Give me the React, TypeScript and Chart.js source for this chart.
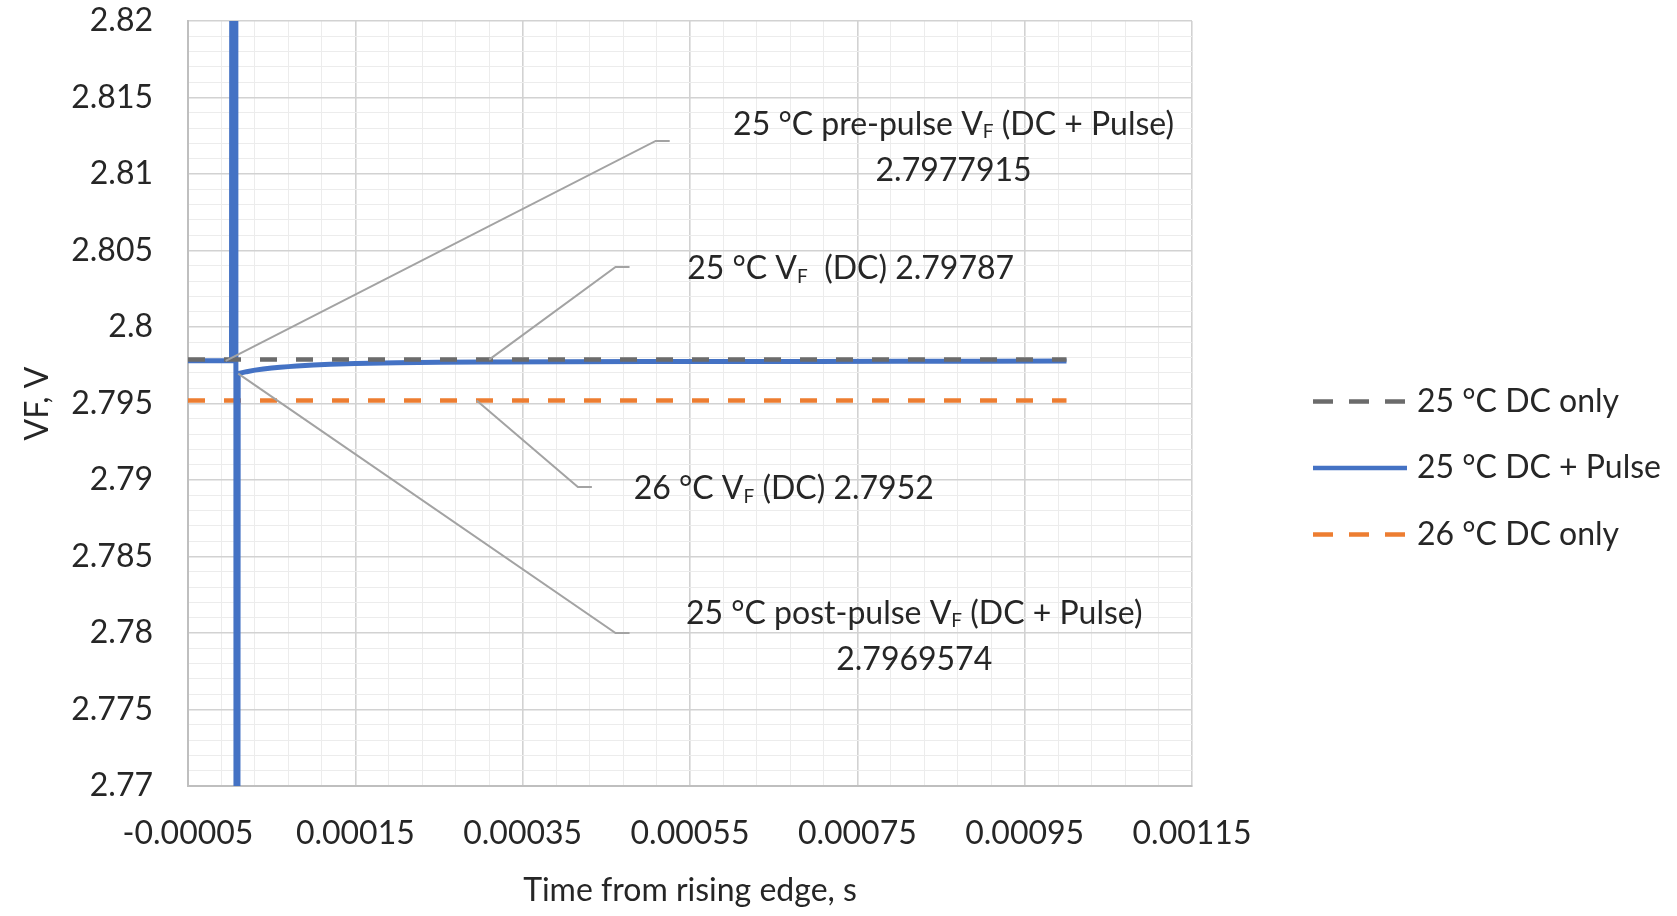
import React, { useEffect, useRef } from 'react';
import { Chart, registerables } from 'chart.js';

Chart.register(...registerables);

const FONT = 'Lato, "Open Sans", "Noto Sans", sans-serif';
const TEXT = '#262626';
const MAJOR_GRID = '#d2d2d2';
const MINOR_GRID = '#ececec';
const LEADER = '#a3a3a3';
const FONT_SIZE = 32;

// Measured forward-voltage levels (V)
const PRE_PULSE_VF = 2.7977915;
const POST_PULSE_VF = 2.7969574;
const DC25_VF = 2.79787;
const DC26_VF = 2.7952;

const seriesNames = ['25 °C DC only', '25 °C DC + Pulse', '26 °C DC only'];
const seriesColors = ['#6b6b6b', '#4472C4', '#ED7D31'];

// Axis tick labels (major ticks); minor gridlines split each interval in five
const xTickLabels = ['-0.00005', '0.00015', '0.00035', '0.00055', '0.00075', '0.00095', '0.00115'];
const yTickLabels = ['2.77', '2.775', '2.78', '2.785', '2.79', '2.795', '2.8', '2.805', '2.81', '2.815', '2.82'];
const MINOR_DIVISIONS = 5;

// DC-only traces (s, V)
const dcTime = [-0.00005, 0.0002, 0.0004, 0.0006, 0.0008, 0.001];
const dc25VF = [DC25_VF, DC25_VF, DC25_VF, DC25_VF, DC25_VF, DC25_VF];
const dc26VF = [DC26_VF, DC26_VF, DC26_VF, DC26_VF, DC26_VF, DC26_VF];

// DC + pulse trace (s, V); the pulse itself runs far off the plotted range
const pulseTime = [
  -0.00005, -0.00004, -0.00003, -0.00002, -0.00001, 0, 0.000002,
  0.000003, 0.000007, 0.0000075, 0.000009,
  0.00001, 0.000015, 0.00002, 0.00003, 0.00004, 0.00005, 0.00006, 0.00007, 0.00008,
  0.0001, 0.00012, 0.00015, 0.0002, 0.00025, 0.0003, 0.0004, 0.0005, 0.0006,
  0.0007, 0.0008, 0.0009, 0.001,
];
const pulseVF = [
  PRE_PULSE_VF, PRE_PULSE_VF, PRE_PULSE_VF, PRE_PULSE_VF, PRE_PULSE_VF, PRE_PULSE_VF, PRE_PULSE_VF,
  2.9, 2.9, 2.7, 2.7,
  POST_PULSE_VF, 2.79702, 2.79708, 2.79718, 2.79726, 2.79732, 2.79737, 2.79741, 2.79745,
  2.79751, 2.79756, 2.79761, 2.79766, 2.79769, 2.79771, 2.79773, 2.79774, 2.79775,
  2.79775, 2.79776, 2.79776, 2.79777,
];

const X_MIN = parseFloat(xTickLabels[0]);
const X_MAX = parseFloat(xTickLabels[xTickLabels.length - 1]);
const Y_MIN = parseFloat(yTickLabels[0]);
const Y_MAX = parseFloat(yTickLabels[yTickLabels.length - 1]);
const X_MAJOR = (X_MAX - X_MIN) / (xTickLabels.length - 1);
const Y_MAJOR = (Y_MAX - Y_MIN) / (yTickLabels.length - 1);

// Data-label callouts: anchor on the series, elbow of the leader, text centre (all in data units)
const callouts = [
  {
    anchor: [-0.000005, PRE_PULSE_VF],
    elbow: [0.000509, 2.81216],
    text: [0.000865, 2.81183],
    lines: ['25 °C pre-pulse V{F} (DC + Pulse)', String(PRE_PULSE_VF)],
  },
  {
    anchor: [0.00031, DC25_VF],
    elbow: [0.000461, 2.80392],
    text: [0.000742, 2.80386],
    lines: [`25 °C V{F}  (DC) ${DC25_VF}`],
  },
  {
    anchor: [0.000295, DC26_VF],
    elbow: [0.000416, 2.78954],
    text: [0.000662, 2.78948],
    lines: [`26 °C V{F} (DC) ${DC26_VF}`],
  },
  {
    anchor: [0.00001, POST_PULSE_VF],
    elbow: [0.000461, 2.78],
    text: [0.000818, 2.77987],
    lines: ['25 °C post-pulse V{F} (DC + Pulse)', String(POST_PULSE_VF)],
  },
];

const toPoints = (xs: number[], ys: number[]) => xs.map((x, i) => ({ x, y: ys[i] }));

function isMajor(value: number, min: number, step: number) {
  const k = (value - min) / step;
  return Math.abs(k - Math.round(k)) < 1e-6;
}

function drawRuns(ctx: CanvasRenderingContext2D, text: string, cx: number, cy: number) {
  const parts = text.split(/(\{F\})/).filter((p) => p.length > 0);
  const big = `${FONT_SIZE}px ${FONT}`;
  const small = `${Math.round(FONT_SIZE * 0.6)}px ${FONT}`;
  const widths = parts.map((p) => {
    ctx.font = p === '{F}' ? small : big;
    return ctx.measureText(p === '{F}' ? 'F' : p).width;
  });
  const total = widths.reduce((a, b) => a + b, 0);
  let xx = cx - total / 2;
  const base = cy + FONT_SIZE * 0.36;
  ctx.textAlign = 'left';
  ctx.textBaseline = 'alphabetic';
  ctx.fillStyle = TEXT;
  parts.forEach((p, i) => {
    if (p === '{F}') {
      ctx.font = small;
      ctx.fillText('F', xx, base + FONT_SIZE * 0.12);
    } else {
      ctx.font = big;
      ctx.fillText(p, xx, base);
    }
    xx += widths[i];
  });
}

const calloutPlugin = {
  id: 'callouts',
  afterDatasetsDraw(chart: any) {
    const { ctx } = chart;
    const x = chart.scales.x;
    const y = chart.scales.y;
    ctx.save();
    for (const c of callouts) {
      const ax = x.getPixelForValue(c.anchor[0]);
      const ay = y.getPixelForValue(c.anchor[1]);
      const ex = x.getPixelForValue(c.elbow[0]);
      const ey = y.getPixelForValue(c.elbow[1]);
      ctx.strokeStyle = LEADER;
      ctx.lineWidth = 2;
      ctx.setLineDash([]);
      ctx.beginPath();
      ctx.moveTo(ax, ay);
      ctx.lineTo(ex, ey);
      ctx.lineTo(ex + 14, ey);
      ctx.stroke();
      const tx = x.getPixelForValue(c.text[0]);
      const ty = y.getPixelForValue(c.text[1]);
      const n = c.lines.length;
      c.lines.forEach((line, i) => drawRuns(ctx, line, tx, ty + (i - (n - 1) / 2) * 46));
    }
    ctx.restore();
  },
};

const sideLegendPlugin = {
  id: 'sideLegend',
  afterDraw(chart: any) {
    const { ctx, chartArea } = chart;
    const x0 = chartArea.right + 121;
    const cy = chart.height / 2 + 10;
    chart.data.datasets.forEach((ds: any, i: number) => {
      const yy = cy + (i - 1) * 66.5;
      ctx.save();
      ctx.strokeStyle = ds.borderColor;
      ctx.lineWidth = 4.5;
      ctx.lineCap = 'butt';
      ctx.setLineDash(ds.borderDash && ds.borderDash.length ? [20, 16] : []);
      ctx.beginPath();
      ctx.moveTo(x0, yy);
      ctx.lineTo(x0 + 94, yy);
      ctx.stroke();
      ctx.setLineDash([]);
      ctx.fillStyle = TEXT;
      ctx.font = `${FONT_SIZE}px ${FONT}`;
      ctx.textAlign = 'left';
      ctx.textBaseline = 'middle';
      ctx.fillText(ds.label, x0 + 104, yy);
      ctx.restore();
    });
  },
};

export default function App() {
  const canvasRef = useRef<HTMLCanvasElement | null>(null);

  useEffect(() => {
    const canvas = canvasRef.current;
    if (!canvas) return;
    const dashed = [17, 19];
    const chart = new Chart(canvas, {
      type: 'line',
      data: {
        datasets: [
          {
            label: seriesNames[0],
            data: toPoints(dcTime, dc25VF),
            borderColor: seriesColors[0],
            borderWidth: 4.5,
            borderDash: dashed,
            pointRadius: 0,
            fill: false,
            clip: 0,
          },
          {
            label: seriesNames[1],
            data: toPoints(pulseTime, pulseVF),
            borderColor: seriesColors[1],
            borderWidth: 5,
            pointRadius: 0,
            fill: false,
            clip: 0,
          },
          {
            label: seriesNames[2],
            data: toPoints(dcTime, dc26VF),
            borderColor: seriesColors[2],
            borderWidth: 4.5,
            borderDash: dashed,
            pointRadius: 0,
            fill: false,
            clip: 0,
          },
        ],
      },
      options: {
        animation: false,
        responsive: false,
        parsing: false as any,
        layout: { padding: { top: 21, right: 485, left: 0, bottom: 0 } },
        plugins: {
          legend: { display: false },
          tooltip: { enabled: false },
        },
        elements: { line: { tension: 0, borderCapStyle: 'butt' } },
        scales: {
          x: {
            type: 'linear',
            min: X_MIN,
            max: X_MAX,
            afterFit: (s: any) => {
              s.height = 130;
              s.paddingLeft = 0;
              s.paddingRight = 0;
            },
            ticks: {
              stepSize: X_MAJOR / MINOR_DIVISIONS,
              autoSkip: false,
              maxRotation: 0,
              minRotation: 0,
              padding: 28,
              color: TEXT,
              font: { family: FONT, size: FONT_SIZE },
              callback: (v: any) =>
                isMajor(Number(v), X_MIN, X_MAJOR) ? xTickLabels[Math.round((Number(v) - X_MIN) / X_MAJOR)] : '',
            },
            grid: {
              drawTicks: false,
              color: (c: any) => (isMajor(c.tick.value, X_MIN, X_MAJOR) ? MAJOR_GRID : MINOR_GRID),
              lineWidth: (c: any) => (isMajor(c.tick.value, X_MIN, X_MAJOR) ? 1.6 : 1),
            },
            border: { display: true, color: '#bfbfbf', width: 2 },
            title: {
              display: true,
              text: 'Time from rising edge, s',
              color: TEXT,
              font: { family: FONT, size: FONT_SIZE },
              padding: { top: 0, bottom: 6 },
            },
          },
          y: {
            type: 'linear',
            min: Y_MIN,
            max: Y_MAX,
            afterFit: (s: any) => {
              s.width = 188;
              s.paddingTop = 0;
              s.paddingBottom = 0;
            },
            ticks: {
              stepSize: Y_MAJOR / MINOR_DIVISIONS,
              autoSkip: false,
              padding: 35,
              color: TEXT,
              font: { family: FONT, size: FONT_SIZE },
              callback: (v: any) =>
                isMajor(Number(v), Y_MIN, Y_MAJOR) ? yTickLabels[Math.round((Number(v) - Y_MIN) / Y_MAJOR)] : '',
            },
            grid: {
              drawTicks: false,
              color: (c: any) => (isMajor(c.tick.value, Y_MIN, Y_MAJOR) ? MAJOR_GRID : MINOR_GRID),
              lineWidth: (c: any) => (isMajor(c.tick.value, Y_MIN, Y_MAJOR) ? 1.6 : 1),
            },
            border: { display: true, color: '#bfbfbf', width: 2 },
            title: {
              display: true,
              text: 'VF, V',
              color: TEXT,
              font: { family: FONT, size: FONT_SIZE },
              padding: { top: 18, bottom: 0 },
            },
          },
        },
      } as any,
      plugins: [calloutPlugin, sideLegendPlugin],
    });
    return () => chart.destroy();
  }, []);

  return (
    <div style={{ position: 'absolute', left: 0, top: 0, width: 1677, height: 916, background: '#ffffff' }}>
      <canvas ref={canvasRef} width={1677} height={916} style={{ display: 'block' }} />
    </div>
  );
}
